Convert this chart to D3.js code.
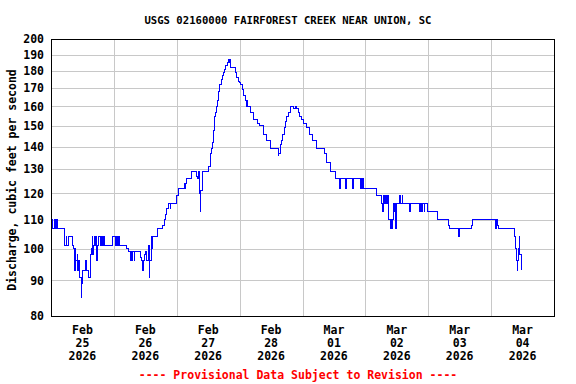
<!DOCTYPE html>
<html>
<head>
<meta charset="utf-8">
<script src="https://cdn.jsdelivr.net/npm/d3@7"></script>
<style>
body { margin: 0; background: #fff; }
svg { display: block; }
text { font-family: "DejaVu Sans Mono", monospace; font-weight: bold; }
</style>
</head>
<body>
<svg id="chart" width="576" height="384"></svg>
<script>
var startDate = new Date(2026, 1, 25);
var endDate = new Date(2026, 2, 5);
var yTicks = [80, 90, 100, 110, 120, 130, 140, 150, 160, 170, 180, 190, 200];
var titleText = "USGS 02160000 FAIRFOREST CREEK NEAR UNION, SC";
var yTitleText = "Discharge, cubic feet per second";
var footerText = "---- Provisional Data Subject to Revision ----";

// [hours after Feb 25 00:00, discharge cfs] - value changes
var readings = [
	[0,110],[0.75,107],[1.5,110],[1.75,107],[2.25,110],[2.5,107],
	[5,105],[5.25,101],[5.75,104],[6,101],[6.5,104],[8.25,101],[8.75,100],[9,93],[9.25,100],
	[9.5,96],[10,98],[10.25,93],[10.5,96],[10.75,93],[11,91],[11.5,85],[11.75,89],[12,93],
	[13,96],[13.5,93],[14.5,91],[15,96],[15.25,98],[15.5,100],[15.75,104],[16,98],[16.25,101],
	[16.5,104],[17,101],[17.25,104],[17.5,96],[17.75,101],[18.25,104],[18.75,101],[19.25,104],
	[19.5,101],[19.75,104],[20,101],[20.25,104],[20.5,101],
	[23.5,104],[24.75,101],[25,104],[25.5,101],[25.75,104],[26.25,101],
	[29,100],[29.75,99],[30.25,96],[30.5,99],[30.75,96],[31,99],[31.75,96],[32,99],[34,97],
	[34.5,96],[35,93],[35.25,96],[35.75,98],[36,99],[36.5,96],[37.25,101],[37.5,91],[37.75,96],
	[38.25,104],[38.5,100],[38.75,104],[40.75,107],[42.75,108],[43.25,110],[43.75,112],
	[44.25,114],[44.75,116],[45.5,114],[45.75,116],[47.75,119],[48.5,122],[51,124],[51.25,122],
	[51.5,124],[51.75,126],[53.75,129],[55.5,127],[56,126],[56.25,129],[56.75,120],[57,113],
	[57.25,121],[57.75,126],[58,129],
	[60,130],[60.25,131],[60.75,134],[61,137],[61.25,139],[61.5,142],[62,148],[62.25,151],
	[62.5,155],[62.75,157],[63,160],[63.5,163],[64,168],[64.5,172],[65,175],[65.5,177],
	[65.75,179],[66.25,181],[66.75,183],[67.25,185],[67.75,187],[68,185],[68.25,187],[68.5,182],
	[70.25,179],[70.75,176],[71.5,174],[72,173],[72.5,172],[73,169],[73.5,166],[74.25,163],
	[74.5,160],[74.75,163],[75,160],[76,157],[77.25,153],[79,151],[79.5,150],[81,146],
	[82.25,143],[83.75,139],[86.75,136],[87,137],[87.5,141],[88,143],[88.5,146],[89,149],
	[89.5,152],[90,155],[90.5,157],[91.25,160],[92.75,159],[93.25,160],[93.75,159],[94.5,157],
	[95,155],[95.5,153],[96.5,151],[97.5,149],[98.5,146],[99.75,143],[101.25,139],[104.25,137],
	[105,133],[106.5,131],[106.75,129],[108.75,126],[110.25,122],[110.5,126],[112.5,122],
	[112.75,126],[115.25,122],[115.5,126],[118,122],[118.25,126],[118.5,122],[118.75,126],
	[119.25,122],[124.25,119],[126.25,116],[126.5,113],[126.75,119],[127.25,116],[127.5,119],
	[128,116],[128.5,119],[128.75,113],[129,110],[129.5,107],[129.75,110],[130,107],[130.5,110],
	[130.75,116],[131,113],[131.25,116],[131.5,107],[131.75,116],[133,119],[133.5,116],[134,119],
	[134.25,116],[137,113],[137.25,116],[140.5,113],[141,116],[141.5,113],[141.75,116],
	[142.5,113],[142.75,116],[143.75,113],[147.5,110],[151.75,108],[152.25,107],[155.5,104],
	[155.75,107],[160.5,108],[160.75,110],[169.5,107],[170,110],[170.25,108],[171,107],
	[176.75,104],[177.25,100],[177.75,96],[178,93],[178.25,96],[178.5,100],[178.75,104],
	[179,98],[179.5,93]
];

var plotLeft = 51, plotRight = 554, plotTop = 39, plotBottom = 316;
var plotW = plotRight - plotLeft, plotH = plotBottom - plotTop;

var svg = d3.select("#chart");

var x = d3.scaleTime().domain([startDate, endDate]).range([plotLeft, plotRight]);
var y = d3.scaleLog().domain([80, 200]).range([plotBottom, plotTop]);

function hourToDate(h) {
	return new Date(startDate.getTime() + h * 3600 * 1000);
}

// grid
var gx = svg.append("g")
	.attr("transform", "translate(0," + plotBottom + ")")
	.call(d3.axisBottom(x).tickValues(d3.timeDay.range(startDate, endDate)).tickSize(-plotH).tickFormat(""));
var gy = svg.append("g")
	.attr("transform", "translate(" + plotLeft + ",0)")
	.call(d3.axisLeft(y).tickValues(yTicks).tickSize(-plotW).tickFormat(""));
[gx, gy].forEach(function(g) {
	g.select(".domain").remove();
	g.selectAll(".tick line")
		.attr("stroke", "#c8c8c8")
		.attr("stroke-width", 1)
		.attr("shape-rendering", "crispEdges");
});

// data line
var line = d3.line()
	.x(function(d) { return x(hourToDate(d[0])); })
	.y(function(d) { return y(d[1]); })
	.curve(d3.curveStepAfter);

svg.append("path")
	.datum(readings)
	.attr("d", line)
	.attr("fill", "none")
	.attr("stroke", "#0000ff")
	.attr("stroke-width", 1)
	.attr("shape-rendering", "crispEdges");

// border
svg.append("rect")
	.attr("x", plotLeft)
	.attr("y", plotTop)
	.attr("width", plotW)
	.attr("height", plotH)
	.attr("fill", "none")
	.attr("stroke", "#000")
	.attr("stroke-width", 1)
	.attr("shape-rendering", "crispEdges");

// y tick labels
var yAxis = svg.append("g")
	.attr("transform", "translate(" + plotLeft + ",0)")
	.call(d3.axisLeft(y).tickValues(yTicks).tickSize(0).tickPadding(7).tickFormat(d3.format("d")));
yAxis.select(".domain").remove();
yAxis.attr("font-family", null).attr("font-size", null);
yAxis.selectAll("text")
	.attr("fill", "#000")
	.style("font-size", "11.5px");

// x tick labels (centered on noon of each day)
var days = d3.timeDay.range(startDate, endDate);
var fmts = [d3.timeFormat("%b"), d3.timeFormat("%d"), d3.timeFormat("%Y")];
var xl = svg.append("g").selectAll("text")
	.data(days)
	.enter()
	.append("text")
	.attr("text-anchor", "middle")
	.style("font-size", "11.5px")
	.attr("fill", "#000");
fmts.forEach(function(f, i) {
	xl.append("tspan")
		.attr("x", function(d) { return x(d3.timeHour.offset(d, 12)); })
		.attr("y", 334 + i * 13)
		.text(function(d) { return f(d); });
});

// titles
svg.append("text")
	.attr("x", 288)
	.attr("y", 24)
	.attr("text-anchor", "middle")
	.style("font-size", "10.6px")
	.text(titleText);

svg.append("text")
	.attr("transform", "translate(16,180) rotate(-90)")
	.attr("text-anchor", "middle")
	.style("font-size", "11.5px")
	.text(yTitleText);

svg.append("text")
	.attr("x", 298)
	.attr("y", 379)
	.attr("text-anchor", "middle")
	.attr("fill", "#ff0000")
	.style("font-size", "11.5px")
	.text(footerText);
</script>
</body>
</html>
